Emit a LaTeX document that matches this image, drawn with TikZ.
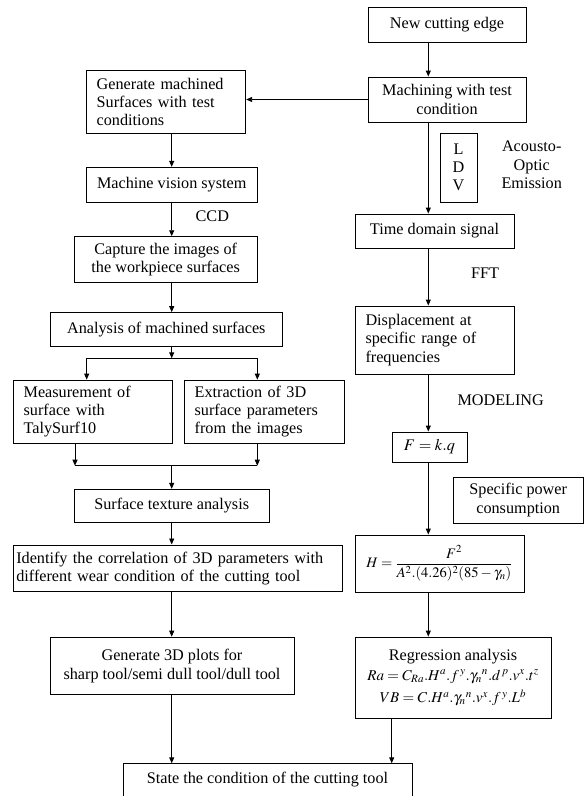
\documentclass[tikz,border=0pt]{standalone}
\usepackage{mathptmx}
\usepackage{fontspec}
\setmainfont{Liberation Serif}
\usetikzlibrary{arrows.meta}
\begin{document}
\begin{tikzpicture}[x=1pt,y=-1pt,
  every node/.style={font=\fontsize{16.2}{18.3}\selectfont},
  box/.style={draw, line width=0.9pt, inner sep=0pt, align=center},
  lbox/.style={draw, line width=0.9pt, inner ysep=0pt, align=left},
  arr/.style={-{Triangle[length=6pt,width=5pt]}, line width=0.9pt},
  ln/.style={line width=0.9pt},
  mathtxt/.style={font=\fontsize{14.5}{17}\selectfont}]
\fill[white] (0,0) rectangle (584,796);
\useasboundingbox (0,0) rectangle (584,796);
% axes
\coordinate (R) at (428.3,0);
\coordinate (R2) at (391.7,0);
\coordinate (L) at (171.7,0);
\coordinate (LM) at (86.7,0);
\coordinate (LE) at (257.3,0);
\coordinate (LM2) at (75,0);
% right column
\node[box, minimum width=158, minimum height=35] (new) at (447,24.5) {New cutting edge};
\node[box, minimum width=158, minimum height=45] (mach) at (447,99.5) {Machining with test\\condition};
\node[box, minimum width=37, minimum height=69] (ldv) at (458.5,167.5) {L\\D\\V};
\node[align=center] (aoe) at (531.7,165) {Acousto-\\Optic\\Emission};
\node[box, minimum width=159, minimum height=34] (tds) at (434.5,231) {Time domain signal};
\node (fft) at (485,273) {FFT};
\node[lbox, text width=138, inner xsep=10.5, minimum height=68] (disp) at (434.5,340) {Displacement at\\specific range of\\frequencies};
\node (mod) at (500.7,400) {MODELING};
\node[box, minimum width=75, minimum height=30] (fkq) at (429.5,447) {$F = k.q$};
\node[box, minimum width=130.5, minimum height=46] (spc) at (518.2,500) {Specific power\\consumption};
\node[box, mathtxt, minimum width=169, minimum height=57] (hbox) at (439.5,563.5) {$H=\displaystyle\frac{F^2}{A^2.(4.26)^2(85-\gamma_n)}$};
\node[box, minimum width=196, minimum height=81] (reg) at (453,677.5) {Regression analysis\\[2pt] {\fontsize{15}{17}\selectfont $Ra = C_{Ra}.H^a.f^{\,y}.\gamma_n{}^n.d^{\,p}.v^x.t^z$}\\[4pt] {\fontsize{15}{17}\selectfont $VB = C.H^a.\gamma_n{}^n.v^x.f^{\,y}.L^b$}};
\node[box, anchor=north, minimum width=289, text height=20, text depth=20] (state) at (267.5,763.3) {State the condition of the cutting tool};
% left column
\node[lbox, text width=139, inner xsep=10, minimum height=62.6] (gen) at (166.2,102) {Generate machined\\Surfaces with test\\conditions};
\node[box, minimum width=171.3, minimum height=35] (mvs) at (171.7,184.8) {Machine vision system};
\node (ccd) at (212.3,216) {CCD};
\node[box, minimum width=183.3, minimum height=45.6] (cap) at (165.7,259.5) {Capture the images of\\the workpiece surfaces};
\node[box, minimum width=232.7, minimum height=33.3] (ana) at (166.3,329.3) {Analysis of machined surfaces};
\node[lbox, text width=138.3, inner xsep=10.7, minimum height=63.3] (meas) at (92.8,411.7) {Measurement of\\surface with\\TalySurf10};
\node[lbox, text width=139.3, inner xsep=10.3, minimum height=63.3] (ext) at (264.3,411.7) {Extraction of 3D\\surface parameters\\from the images};
\node[box, minimum width=195.3, minimum height=33.4] (stx) at (171.7,506) {Surface texture analysis};
\node[lbox, text width=323.4, inner xsep=3, minimum height=46.7] (ident) at (178,568.3) {Identify the correlation of 3D parameters with\\different wear condition of the cutting tool};
\node[box, minimum width=244, minimum height=57.7] (g3d) at (172,666) {Generate 3D plots for\\sharp tool/semi dull tool/dull tool};
% junctions
\coordinate (j1) at (171.7,358.3);
\coordinate (j2) at (171.7,465.7);
% right connectors
\draw[arr] (new.south -| R) -- (mach.north -| R);
\draw[arr] (mach.south -| R) -- (tds.north -| R);
\draw[arr] (tds.south -| R) -- (disp.north -| R);
\draw[arr] (disp.south -| R) -- (fkq.north -| R);
\draw[arr] (fkq.south -| R) -- (hbox.north -| R);
\draw[arr] (hbox.south -| R) -- (reg.north -| R);
\draw[arr] (reg.south -| R2) -- (state.north -| R2);
\draw[arr] (mach.west) -- (gen.east |- mach.west);
% left connectors
\draw[arr] (gen.south -| L) -- (mvs.north -| L);
\draw[arr] (mvs.south -| L) -- (cap.north -| L);
\draw[arr] (cap.south -| L) -- (ana.north -| L);
\draw[arr] (ana.south -| L) -- (j1);
\draw[ln] (j1 -| LM) -- (j1 -| LE);
\draw[arr] (j1 -| LM) -- (meas.north -| LM);
\draw[arr] (j1 -| LE) -- (ext.north -| LE);
\draw[arr] (meas.south -| LM2) -- (j2 -| LM2);
\draw[arr] (ext.south -| LE) -- (j2 -| LE);
\draw[ln] (j2 -| LM2) -- (j2 -| LE);
\draw[arr] (j2) -- (stx.north -| L);
\draw[arr] (stx.south -| L) -- (ident.north -| L);
\draw[arr] (ident.south -| L) -- (g3d.north -| L);
\draw[arr] (g3d.south -| L) -- (state.north -| L);
\end{tikzpicture}
\end{document}
